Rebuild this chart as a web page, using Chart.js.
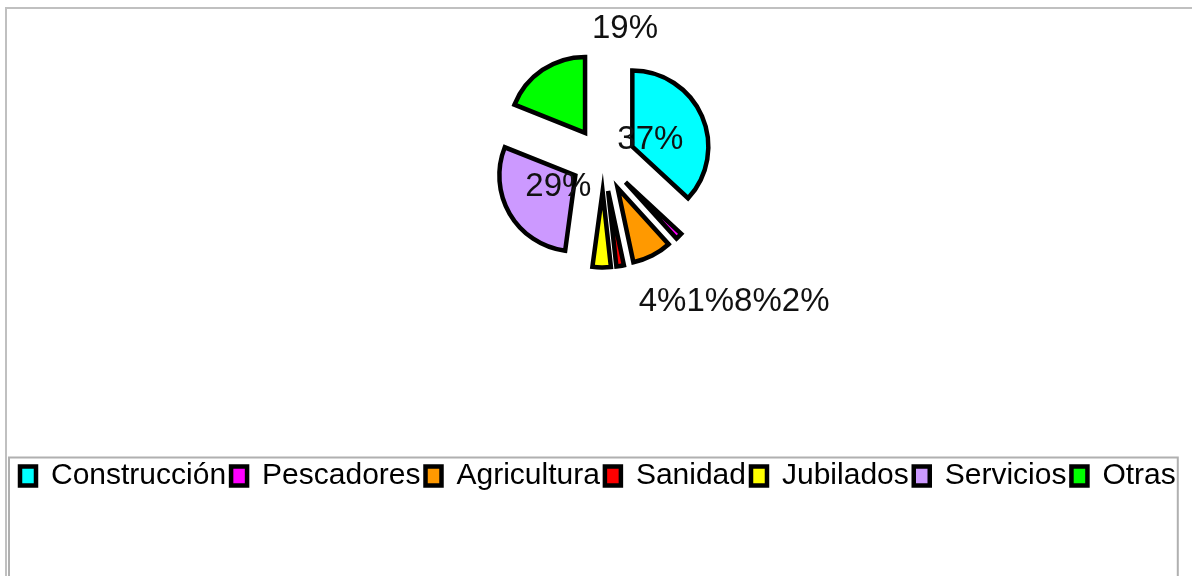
<!DOCTYPE html>
<html>
<head>
<meta charset="utf-8">
<script src="https://cdn.jsdelivr.net/npm/chart.js@4.4.1/dist/chart.umd.min.js"></script>
<style>
  html, body { margin: 0; padding: 0; background: #fff; overflow: hidden; }
  #wrap { position: relative; width: 1192px; height: 576px; overflow: hidden; }
  #frame { position: absolute; left: 5px; top: 7px; width: 1300px; height: 700px;
           border-top: 2px solid #c0c0c0; border-left: 2px solid #c0c0c0; }
  canvas { position: absolute; left: 0; top: 0; }
</style>
</head>
<body>
<div id="wrap">
  <div id="frame"></div>
  <canvas id="pieChart" width="1192" height="576"></canvas>
</div>
<script>
const labels = ['Construcción', 'Pescadores', 'Agricultura', 'Sanidad', 'Jubilados', 'Servicios', 'Otras'];
const values = [37, 1.4, 8.4, 1.6, 3.9, 29, 19];
const colors = ['#00FFFF', '#FF00FF', '#FF9900', '#FF0000', '#FFFF00', '#CC99FF', '#00FF00'];

const FONT = '"Liberation Sans", Arial, sans-serif';
const EXPLODE = 32;

// pull every slice away from the centre (offset option also grows small slices, so move them instead)
const explode = {
  id: 'explode',
  afterDatasetUpdate(chart, args) {
    args.meta.data.forEach(arc => {
      const mid = (arc.startAngle + arc.endAngle) / 2;
      arc.x += Math.cos(mid) * EXPLODE;
      arc.y += Math.sin(mid) * EXPLODE;
    });
  }
};

const pctLabels = {
  id: 'pctLabels',
  afterDatasetsDraw(chart) {
    const {ctx, chartArea} = chart;
    const arcs = chart.getDatasetMeta(0).data;
    const total = values.reduce((a, b) => a + b, 0);
    const cx = (chartArea.left + chartArea.right) / 2;
    const cy = (chartArea.top + chartArea.bottom) / 2;
    const r = arcs[0].outerRadius;
    ctx.save();
    ctx.font = '33px ' + FONT;
    ctx.fillStyle = '#111';
    ctx.textBaseline = 'alphabetic';
    const below = [];
    arcs.forEach((arc, i) => {
      const share = values[i] / total;
      const text = Math.round(share * 100) + '%';
      const mid = (arc.startAngle + arc.endAngle) / 2;
      if (share >= 0.25) {
        ctx.textAlign = 'center';
        ctx.fillText(text, cx + Math.cos(mid) * r * 0.68, cy + Math.sin(mid) * r * 0.68 + 10.5);
      } else if (Math.sin(mid) < 0) {
        ctx.textAlign = 'center';
        ctx.fillText(text, cx + r * 0.29, cy - r * 1.6);
      } else {
        below.push(text);
      }
    });
    // small slices are written in one row under the pie
    if (below.length) {
      below.unshift(below.pop());
      ctx.textAlign = 'left';
      let x = cx + r * 0.47;
      below.forEach(t => {
        ctx.fillText(t, x, cy + r * 2);
        x += ctx.measureText(t).width;
      });
    }
    ctx.restore();
  }
};

// grey box round the legend, open at the bottom
const legendFrame = {
  id: 'legendFrame',
  afterDraw(chart) {
    const boxes = chart.legend.legendHitBoxes;
    if (!boxes || !boxes.length) return;
    const first = boxes[0], last = boxes[boxes.length - 1];
    const ctx = chart.ctx;
    const top = first.top + first.height / 2 - 18.5;
    const right = last.left + last.width + 2;
    ctx.save();
    ctx.strokeStyle = '#b0b0b0';
    ctx.lineWidth = 2;
    ctx.beginPath();
    ctx.moveTo(first.left - 11, chart.height + 5);
    ctx.lineTo(first.left - 11, top);
    ctx.lineTo(right, top);
    ctx.lineTo(right, chart.height + 5);
    ctx.stroke();
    ctx.restore();
  }
};

const ctx = document.getElementById('pieChart').getContext('2d');

const pieChart = new Chart(ctx, {
  type: 'pie',
  data: {
    labels: labels,
    datasets: [{
      data: values,
      backgroundColor: colors,
      borderColor: '#000',
      borderWidth: 4.5,
      borderJoinStyle: 'miter',
      clip: false
    }]
  },
  options: {
    responsive: false,
    animation: false,
    events: [],
    radius: 76,
    layout: {
      padding: { left: 15, right: 1, top: 0, bottom: 75 }
    },
    plugins: {
      tooltip: { enabled: false },
      legend: {
        position: 'bottom',
        align: 'start',
        title: {
          display: true,
          text: ' ',
          font: { size: 1 },
          padding: { top: 136, bottom: 0 }
        },
        labels: {
          color: '#000',
          font: { family: FONT, size: 30 },
          boxWidth: 16,
          boxHeight: 19,
          padding: 5
        }
      }
    }
  },
  plugins: [explode, pctLabels, legendFrame]
});
</script>
</body>
</html>
